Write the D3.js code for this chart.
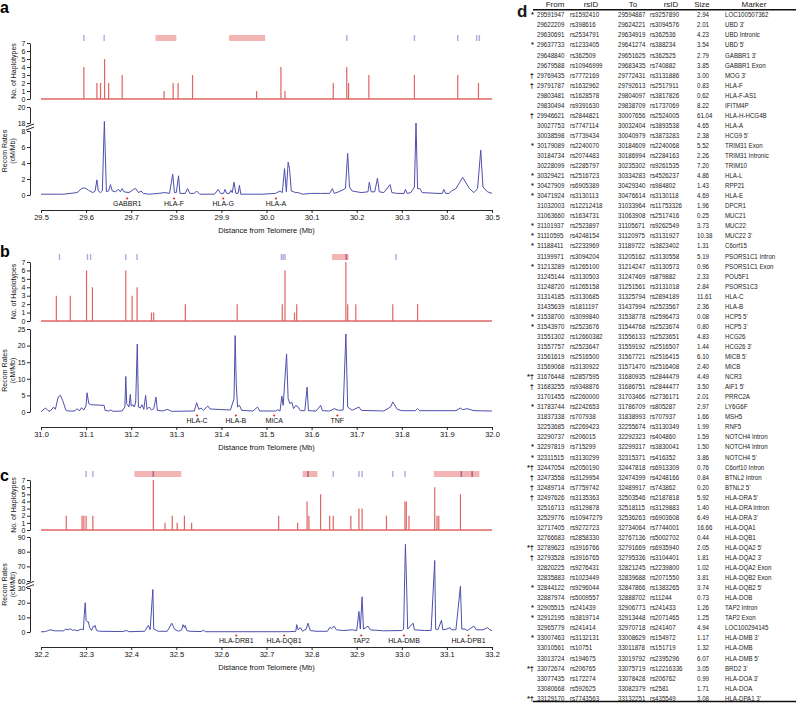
<!DOCTYPE html>
<html><head><meta charset="utf-8">
<script src="https://cdn.jsdelivr.net/npm/d3@7"></script>
<style>body{margin:0;background:#fff}svg{display:block;font-family:"Liberation Sans",Arial,sans-serif}</style>
</head><body><svg id="chart" width="796" height="704"></svg>
<script>
// ---------------- Panel a data ----------------
const hapPosA=[29.595,29.624,29.632,29.641,29.650,29.680,29.773,29.793,29.804,29.836,29.978,30.032,30.041,30.148,30.178,30.182,30.227,30.328,30.424,30.470];
const hapCountA=[4,2,2,5,2,3,1,2,2,3,1,4,1,2,4,2,3,3,3,2];
const blueA=[29.595,29.640,30.178,30.328,30.424,30.466,30.472];
const pinkStartA=[29.754,29.917], pinkEndA=[29.800,29.997], darkA=[];
const geneNamesA=["GABBR1","HLA-F","HLA-G","HLA-A"], genePosA=[29.691,29.795,29.904,30.021];
const xTickLabelsA=["29.5","29.6","29.7","29.8","29.9","30.0","30.1","30.2","30.3","30.4","30.5"];
const recPosA=[29.50,29.55,29.58,29.59,29.597,29.605,29.615,29.62,29.624,29.627,29.632,29.636,29.6405,29.645,29.65,29.654,29.658,29.665,29.672,29.676,29.68,29.684,29.695,29.705,29.71,29.716,29.722,29.727,29.74,29.76,29.775,29.785,29.792,29.796,29.80,29.805,29.808,29.82,29.825,29.83,29.84,29.845,29.852,29.885,29.893,29.898,29.905,29.908,29.912,29.918,29.921,29.924,29.928,29.932,29.937,29.94,29.943,29.96,29.99,30.02,30.03,30.035,30.04,30.044,30.048,30.051,30.055,30.065,30.07,30.08,30.10,30.12,30.14,30.146,30.15,30.16,30.175,30.18,30.184,30.19,30.20,30.21,30.225,30.228,30.232,30.24,30.246,30.25,30.26,30.274,30.278,30.29,30.305,30.308,30.312,30.32,30.328,30.3315,30.335,30.34,30.345,30.38,30.39,30.393,30.397,30.405,30.41,30.42,30.435,30.45,30.46,30.468,30.475,30.48,30.49,30.50];
const recRateA=[0.1,0.1,0.3,0.8,0.9,0.6,0.3,0.5,1.9,0.5,0.3,0.5,18.2,0.4,0.5,1.3,0.5,0.4,0.7,0.4,0.8,0.4,0.3,0.7,0.8,0.3,0.5,0.2,0.1,0.2,0.3,0.2,2.6,0.3,0.3,2.4,0.2,0.2,0.8,0.2,0.2,0.5,0.1,0.1,0.7,0.2,0.2,0.7,0.2,0.2,0.6,0.3,1.6,0.2,0.2,1.2,0.1,0.1,0.1,0.2,0.5,0.3,3.3,0.4,4.1,3.3,0.5,0.3,0.3,0.1,0.2,0.2,0.2,0.8,0.2,0.4,0.8,5.2,1.0,0.5,0.4,0.3,0.4,1.6,0.4,0.4,2.1,0.4,0.3,1.3,0.3,0.2,0.2,0.7,0.2,0.3,1.0,18.0,0.8,0.8,0.3,0.2,0.2,0.7,0.2,0.2,0.5,0.8,2.2,0.8,0.3,0.8,5.6,1.0,0.4,0.2];

// ---------------- Panel b data ----------------
const hapPosB=[31.034,31.065,31.101,31.114,31.188,31.202,31.213,31.245,31.250,31.320,31.435,31.535,31.541,31.562,31.567,31.676,31.680,31.698,31.780,31.835];
const hapCountB=[3,3,6,4,6,3,4,1,1,2,2,2,6,1,2,7,2,2,2,2];
const blueB=[31.041,31.103,31.110,31.188,31.213,31.533,31.537,31.541,31.787];
const pinkStartB=[31.645], pinkEndB=[31.682], darkB=[31.677];
const geneNamesB=["HLA-C","HLA-B","MICA","TNF"], genePosB=[31.346,31.432,31.517,31.657];
const xTickLabelsB=["31.0","31.1","31.2","31.3","31.4","31.5","31.6","31.7","31.8","31.9","32.0"];
const recPosB=[31.00,31.01,31.015,31.02,31.028,31.032,31.038,31.043,31.048,31.055,31.06,31.075,31.08,31.085,31.09,31.095,31.10,31.102,31.106,31.11,31.14,31.142,31.15,31.155,31.16,31.18,31.186,31.188,31.19,31.195,31.198,31.20,31.204,31.207,31.21,31.2135,31.216,31.22,31.224,31.228,31.232,31.235,31.24,31.245,31.25,31.255,31.258,31.27,31.28,31.29,31.34,31.345,31.35,31.355,31.36,31.37,31.375,31.42,31.428,31.4305,31.433,31.436,31.44,31.445,31.47,31.48,31.485,31.52,31.525,31.53,31.534,31.537,31.5445,31.548,31.552,31.556,31.56,31.565,31.57,31.575,31.585,31.59,31.593,31.61,31.62,31.624,31.64,31.65,31.66,31.67,31.676,31.68,31.69,31.705,31.71,31.76,31.775,31.78,31.79,31.80,31.83,31.835,31.84,31.92,31.93,31.935,31.945,31.96,32.00];
const recRateB=[0.1,1.2,0.5,0.2,1.5,0.8,4.5,5.0,3.5,0.6,0.3,0.3,1.0,0.3,1.3,0.6,2.0,5.8,2.5,2.2,2.0,0.5,0.3,0.6,0.2,0.3,1.5,10.7,2.5,1.5,5.3,1.8,2.2,1.5,3.0,20.5,1.5,1.2,2.2,0.8,5.0,0.8,1.5,0.6,1.0,4.5,0.5,0.3,0.8,0.2,0.3,2.8,0.8,1.2,0.5,1.8,0.9,0.6,4.0,23.0,8.0,1.5,2.0,0.5,0.3,1.5,0.3,0.3,0.7,0.3,4.8,2.0,17.5,4.0,2.5,3.0,1.0,2.0,1.5,0.4,0.4,7.5,0.4,0.3,2.0,0.4,0.3,1.0,0.5,0.6,23.5,1.5,0.5,1.5,0.5,0.3,1.5,3.0,0.8,0.4,0.4,1.0,0.4,0.4,1.2,0.7,1.0,0.4,0.3];

// ---------------- Panel c data ----------------
const hapPosC=[32.256,32.291,32.295,32.300,32.315,32.449,32.475,32.491,32.502,32.518,32.534,32.727,32.769,32.790,32.794,32.820,32.840,32.848,32.887,32.905,32.912,32.966,33.007,33.010,33.016,33.073,33.078,33.082,33.130];
const hapCountC=[2,2,2,2,2,7,1,2,1,2,1,2,1,4,2,5,2,2,2,3,3,2,4,4,2,6,2,2,5];
const blueC=[32.300,32.315,32.848,32.905,32.912,32.980,33.007];
const pinkStartC=[32.407,32.780,33.071], pinkEndC=[32.511,32.813,33.172], darkC=[32.449,32.792,33.132,33.156];
const geneNamesC=["HLA-DRB1","HLA-DQB1","TAP2","HLA-DMB","HLA-DPB1"], genePosC=[32.633,32.739,32.910,33.005,33.148];
const xTickLabelsC=["32.2","32.3","32.4","32.5","32.6","32.7","32.8","32.9","33.0","33.1","33.2"];
const recPosC=[32.20,32.21,32.22,32.23,32.25,32.255,32.26,32.265,32.27,32.275,32.28,32.29,32.294,32.296,32.298,32.30,32.302,32.305,32.308,32.312,32.316,32.318,32.32,32.323,32.33,32.38,32.39,32.395,32.43,32.438,32.442,32.448,32.45,32.46,32.48,32.49,32.496,32.505,32.512,32.515,32.518,32.52,32.523,32.53,32.555,32.56,32.565,32.75,32.765,32.767,32.77,32.775,32.78,32.788,32.792,32.797,32.81,32.835,32.84,32.845,32.85,32.855,32.87,32.89,32.90,32.905,32.908,32.912,32.915,32.925,32.93,32.96,33.00,33.004,33.008,33.011,33.013,33.025,33.028,33.05,33.065,33.073,33.075,33.08,33.088,33.091,33.10,33.107,33.11,33.12,33.13,33.133,33.14,33.145,33.16,33.165,33.18,33.19,33.195,33.20];
const recRateC=[0.1,0.3,1.5,0.8,0.8,2.0,1.5,2.2,1.2,1.5,0.8,2.0,1.5,12,20,8,7,7,3,1,4,3.5,4.5,1,0.5,0.3,1.0,0.2,0.5,4.5,1.5,29,2,0.5,0.5,6,2,0.5,1.5,5,3,4.5,1,0.5,0.3,1.2,0.2,0.2,0.5,5,1.5,3,0.5,2,6,1,0.5,0.5,3,2.5,4,1.5,1,1.5,1,14,2,24,2,4,1.5,0.8,1,2,85,28,2,6,1.5,1,1,74,2,1.5,8,1.5,2,3,1.5,1.5,38,2,2,1,4,1.5,1.5,3,1.5,1];

const hapTicks=[0,1,2,3,4,5,6,7];
const recTicksLowA=[0,2,4,6,8], recTicksHighA=[18,20];
const recTicksB=[0,5,10,15,20,25];
const recTicksLowC=[0,10,20,30], recTicksHighC=[60,70,80,90];

// ---------------- Table d data ----------------
const tableHeaders=["From","rsID","To","rsID","Size","Marker"];
const tFlag=["*","","","*","","","†","†","","","†","","","*","","","*","*","*","","","*","*","*","","*","","","","","*","*","","","","","*†","†","","*","","","","*","*","*†","†","†","†","","","","","*†","†","","","*","","*","*","","*","","","*†","","","*†"];
const tFrom=["29591947","29622209","29630691","29637733","29648840","29679588","29769435","29791787","29803481","29830494","29946621","30027753","30038598","30179089","30184734","30228099","30329421","30427909","30471924","31032003","31063660","31101937","31110595","31188411","31199971","31213289","31245144","31248720","31314185","31435639","31538700","31543970","31551302","31557757","31561619","31569068","31676448","31683255","31701455","31783744","31837338","32253685","32290737","32297819","32311515","32447054","32473558","32489714","32497626","32516713","32529776","32717405","32766683","32789623","32793528","32820225","32835883","32844122","32887974","32905515","32912195","32965779","33007463","33010561","33013724","33072674","33077435","33080668","33129170"];
const tFromRs=["rs1592410","rs398616","rs2534791","rs1233405","rs362509","rs10946999","rs7772169","rs1632962","rs1628578","rs9391630","rs2844821","rs7747114","rs7739434","rs2240070","rs2074483","rs2285797","rs2516723","rs6905389","rs3130113","rs12212418","rs1634731","rs2523897","rs4248154","rs2233969","rs3094204","rs1265100","rs3130503","rs1265158","rs3130685","rs1811197","rs3099840","rs2523676","rs12660382","rs2523647","rs2516500","rs3130922","rs2857595","rs9348876","rs2260000","rs2242653","rs707938","rs2269423","rs206015","rs715299","rs3130299","rs2050190","rs3129954","rs7759742","rs3135363","rs3129878","rs10947279","rs9272723","rs2858330","rs3916766","rs3916765","rs9276431","rs1023449","rs9296044","rs5009557","rs241439","rs3819714","rs241414","rs3132131","rs10751","rs194675","rs206765","rs172274","rs592625","rs7743563"];
const tTo=["29594887","29624221","29634919","29641274","29651625","29683435","29772431","29792613","29804097","29838709","30007656","30032404","30040979","30184609","30186994","30235302","30334283","30429340","30476614","31033964","31063908","31105671","31120975","31189722","31205162","31214247","31247469","31251561","31325794","31437994","31538778","31544768","31556133","31559192","31567721","31571470","31680935","31686751","31703466","31786709","31838993","32255674","32292323","32299317","32315371","32447818","32474399","32489917","32503546","32518115","32536263","32734064","32767136","32791669","32795336","32821245","32839688","32847866","32888702","32906773","32913448","32970718","33008629","33011878","33019792","33075719","33078428","33082379","33132251"];
const tToRs=["rs9257890","rs3094576","rs362536","rs388234","rs362525","rs740882","rs3131886","rs2517911","rs3817826","rs1737069","rs2524005","rs3893538","rs3873283","rs2240068","rs2284163","rs9261535","rs4526237","rs984802","rs3130118","rs11753326","rs2517416","rs9262549","rs3131927","rs3823402","rs3130558","rs3130573","rs879882","rs3131018","rs2894189","rs2523567","rs2596473","rs2523674","rs2523651","rs2516507","rs2516415","rs2516408","rs2844479","rs2844477","rs2736171","rs805287","rs707937","rs3130349","rs404860","rs3830041","rs416352","rs6913309","rs4248166","rs743862","rs2187818","rs3129883","rs6903608","rs7744001","rs5002702","rs6935940","rs3104401","rs2239800","rs2071550","rs1383265","rs11244","rs241433","rs2071465","rs241407","rs154972","rs151719","rs2395296","rs12216336","rs206762","rs2581","rs435549"];
const tSize=["2.94","2.01","4.23","3.54","2.79","3.85","3.00","0.83","0.62","8.22","61.04","4.65","2.38","5.52","2.26","7.20","4.86","1.43","4.69","1.96","0.25","3.73","10.38","1.31","5.19","0.96","2.33","2.84","11.61","2.36","0.08","0.80","4.83","1.44","6.10","2.40","4.49","3.50","2.01","2.97","1.66","1.99","1.59","1.50","3.86","0.76","0.84","0.20","5.92","1.40","6.49","16.66","0.44","2.05","1.81","1.02","3.81","3.74","0.73","1.26","1.25","4.94","1.17","1.32","6.07","3.05","0.99","1.71","3.08"];
const tMarker=["LOC100507362","UBD 3'","UBD Intronic","UBD 5'","GABBR1 3'","GABBR1 Exon","MOG 3'","HLA-F","HLA-F-AS1","IFITM4P","HLA-H-HCG4B","HLA-A","HCG9 5'","TRIM31 Exon","TRIM31 Intronic","TRIM10","HLA-L","RPP21","HLA-E","DPCR1","MUC21","MUC22","MUC22 3'","C6orf15","PSORS1C1 Intron","PSORS1C1 Exon","POU5F1","PSORS1C3","HLA-C","HLA-B","HCP5 5'","HCP5 3'","HCG26","HCG26 3'","MICB 5'","MICB","NCR3","AIF1 5'","PRRC2A","LY6G6F","MSH5","RNF5","NOTCH4 Intron","NOTCH4 Intron","NOTCH4 5'","C6orf10 Intron","BTNL2 Intron","BTNL2 5'","HLA-DRA 5'","HLA-DRA Intron","HLA-DRA 3'","HLA-DQA1","HLA-DQB1","HLA-DQA2 5'","HLA-DQA2 3'","HLA-DQA2 Exon","HLA-DQB2 Exon","HLA-DQB2 5'","HLA-DOB","TAP2 Intron","TAP2 Exon","LOC100294145","HLA-DMB 3'","HLA-DMB","HLA-DMB 5'","BRD2 3'","HLA-DOA 3'","HLA-DOA","HLA-DPA1 3'"];

// ---------------- drawing ----------------
const svg=d3.select("#chart");
const RED="#e06464", BLUE="#4f4fae", LBLUE="#a9addc", PINK="#f3b4b4", DARK="#b2678a";
const X0=41, X1=492, YAX=30;
const fmt=d3.format("d");

const panels=[
 {letter:"a",labelY:13,dom:[29.5,30.5],hapPos:hapPosA,hapCount:hapCountA,blue:blueA,ps:pinkStartA,pe:pinkEndA,dark:darkA,
  genes:geneNamesA,genePos:genePosA,xLabels:xTickLabelsA,recPos:recPosA,recRate:recRateA,
  stripTop:35,hapTop:43,hapBot:99,recDom:[0,8,18,20],recRng:[195,131,123,107],
  recAxes:[{t:recTicksLowA,d:[0,8],r:[195,131]},{t:recTicksHighA,d:[18,20],r:[123,107]}],brk:127,axisY:210},
 {letter:"b",labelY:257,dom:[31.0,32.0],hapPos:hapPosB,hapCount:hapCountB,blue:blueB,ps:pinkStartB,pe:pinkEndB,dark:darkB,
  genes:geneNamesB,genePos:genePosB,xLabels:xTickLabelsB,recPos:recPosB,recRate:recRateB,
  stripTop:254,hapTop:262,hapBot:321,recDom:[0,25],recRng:[412,329],
  recAxes:[{t:recTicksB,d:[0,25],r:[412,329]}],brk:null,axisY:427},
 {letter:"c",labelY:481,dom:[32.2,33.2],hapPos:hapPosC,hapCount:hapCountC,blue:blueC,ps:pinkStartC,pe:pinkEndC,dark:darkC,
  genes:geneNamesC,genePos:genePosC,xLabels:xTickLabelsC,recPos:recPosC,recRate:recRateC,
  stripTop:471,hapTop:480,hapBot:530,recDom:[0,30,60,90],recRng:[632,588,581,537],
  recAxes:[{t:recTicksLowC,d:[0,30],r:[632,588]},{t:recTicksHighC,d:[60,90],r:[581,537]}],brk:584.5,axisY:647}
];

function styleAxis(g,fs){
  g.attr("font-size",fs).attr("font-family","Liberation Sans, Arial, sans-serif");
  g.selectAll("path,line").attr("stroke","#111").attr("stroke-width",0.9);
  g.selectAll("text").attr("fill","#111");
}

panels.forEach(p=>{
  const g=svg.append("g");
  const x=d3.scaleLinear().domain(p.dom).range([X0,X1]);
  const yh=d3.scaleLinear().domain([0,7]).range([p.hapBot,p.hapTop]);
  const yr=d3.scaleLinear().domain(p.recDom).range(p.recRng);

  g.append("text").attr("x",0).attr("y",p.labelY).attr("font-size",16).attr("font-weight","bold").text(p.letter);

  // top strip
  p.ps.forEach((s,i)=>g.append("rect").attr("x",x(s)).attr("y",p.stripTop).attr("width",x(p.pe[i])-x(s)).attr("height",6).attr("fill",PINK));
  p.blue.forEach(b=>g.append("rect").attr("x",x(b)-0.7).attr("y",p.stripTop).attr("width",1.4).attr("height",6).attr("fill",LBLUE));
  p.dark.forEach(b=>g.append("rect").attr("x",x(b)-0.8).attr("y",p.stripTop).attr("width",1.6).attr("height",6).attr("fill",DARK));

  // haplotype axis
  const ah=g.append("g").attr("transform",`translate(${YAX},0)`)
    .call(d3.axisLeft(yh).tickValues(hapTicks).tickFormat(fmt).tickSize(3).tickSizeOuter(0).tickPadding(1.5));
  styleAxis(ah,7);
  g.append("text").attr("transform",`translate(15.5,${(p.hapTop+p.hapBot)/2}) rotate(-90)`)
    .attr("text-anchor","middle").attr("font-size",7).attr("fill","#111").text("No. of Haplotypes");

  // haplotype bars
  g.append("line").attr("x1",X0).attr("x2",X1).attr("y1",yh(0)).attr("y2",yh(0)).attr("stroke",RED).attr("stroke-width",1.3);
  g.selectAll(".hb").data(p.hapPos).enter().append("line")
    .attr("x1",d=>x(d)).attr("x2",d=>x(d)).attr("y1",yh(0)).attr("y2",(d,i)=>yh(p.hapCount[i]))
    .attr("stroke",RED).attr("stroke-width",1.2);

  // recombination axes
  p.recAxes.forEach(a=>{
    const s=d3.scaleLinear().domain(a.d).range(a.r);
    const ag=g.append("g").attr("transform",`translate(${YAX},0)`)
      .call(d3.axisLeft(s).tickValues(a.t).tickFormat(fmt).tickSize(3).tickSizeOuter(0).tickPadding(1.5));
    styleAxis(ag,7);
  });
  if(p.brk!==null){
    [-1.6,1.6].forEach(o=>g.append("line").attr("x1",YAX-4).attr("x2",YAX+4).attr("y1",p.brk+o+1.5).attr("y2",p.brk+o-1.5).attr("stroke","#111").attr("stroke-width",0.9));
  }
  const rc=(p.recRng[0]+p.recRng[p.recRng.length-1])/2;
  g.append("text").attr("transform",`translate(7,${rc}) rotate(-90)`).attr("text-anchor","middle").attr("font-size",7).attr("fill","#111").text("Recom Rates");
  g.append("text").attr("transform",`translate(14.5,${rc}) rotate(-90)`).attr("text-anchor","middle").attr("font-size",7).attr("fill","#111").text("(cM/Mb)");

  // recombination line
  const pts=p.recPos.map((d,i)=>[d,p.recRate[i]]);
  g.append("path").datum(pts).attr("fill","none").attr("stroke",BLUE).attr("stroke-width",1).attr("stroke-linejoin","round")
    .attr("d",d3.line().x(d=>x(d[0])).y(d=>yr(d[1])));

  // genes
  p.genes.forEach((n,i)=>{
    g.append("text").attr("x",x(p.genePos[i])).attr("y",p.axisY-4).attr("text-anchor","middle").attr("font-size",7).attr("fill","#111").text(n);
    g.append("circle").attr("cx",x(p.genePos[i])).attr("cy",p.axisY-11.5).attr("r",1.1).attr("fill","#e02a2a");
  });

  // x axis
  const tv=p.xLabels.map(Number);
  const ax=g.append("g").attr("transform",`translate(0,${p.axisY})`)
    .call(d3.axisBottom(x).tickValues(tv).tickFormat((d,i)=>p.xLabels[i]).tickSize(3).tickSizeOuter(0).tickPadding(2));
  styleAxis(ax,7.5);
  g.append("text").attr("x",(X0+X1)/2).attr("y",p.axisY+23).attr("text-anchor","middle").attr("font-size",7.5).attr("fill","#111").text("Distance from Telomere (Mb)");
});

// ---------------- table ----------------
const tg=svg.append("g").attr("font-family","Liberation Sans, Arial, sans-serif").attr("fill","#1a1a1a");
tg.append("text").attr("x",517).attr("y",17).attr("font-size",17).attr("font-weight","bold").text("d");
const headX=[555,591,633,671,702,754];
tableHeaders.forEach((h,i)=>tg.append("text").attr("x",headX[i]).attr("y",7).attr("text-anchor","middle").attr("font-size",8).text(h));
tg.append("line").attr("x1",533).attr("x2",796).attr("y1",9.8).attr("y2",9.8).attr("stroke","#111").attr("stroke-width",1.4);
const colX=[537,570,618,650,697,725];
const cols=[tFrom,tFromRs,tTo,tToRs,tSize,tMarker];
const rowY=i=>17.3+i*10.05;
tFrom.forEach((_,i)=>{
  const y=rowY(i);
  if(tFlag[i]) tg.append("text").attr("x",534).attr("y",y).attr("text-anchor","end").attr("font-size",7.5).attr("font-weight","bold").text(tFlag[i]);
  cols.forEach((c,j)=>tg.append("text").attr("transform",`translate(${colX[j]},${y}) scale(0.88,1)`).attr("font-size",7).text(c[i]));
});
tg.append("line").attr("x1",533).attr("x2",796).attr("y1",701.5).attr("y2",701.5).attr("stroke","#111").attr("stroke-width",1.4);
</script></body></html>
